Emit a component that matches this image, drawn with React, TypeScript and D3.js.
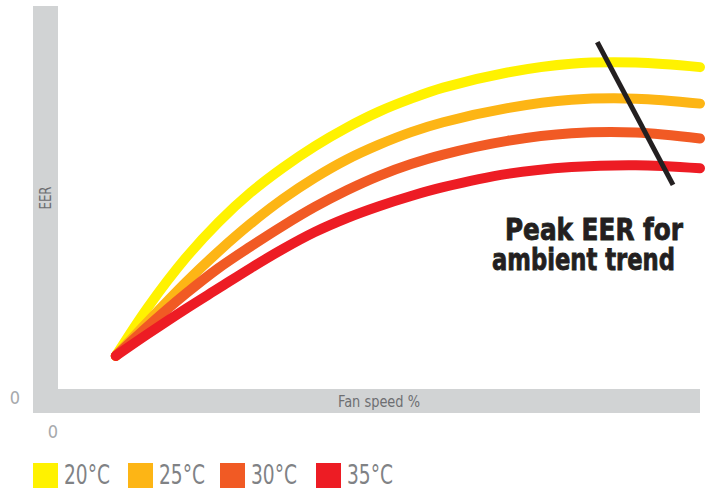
import React from "react";
import * as d3 from "d3";

const fanSpeed = [9, 14, 20, 25, 30, 35, 40, 45, 50, 55, 60, 70, 80, 90, 100];
const eer20 = [0.87, 2.15, 3.47, 4.39, 5.17, 5.82, 6.39, 6.88, 7.3, 7.64, 7.93, 8.33, 8.56, 8.59, 8.47];
const eer25 = [0.87, 1.77, 2.82, 3.62, 4.35, 5.0, 5.56, 6.04, 6.43, 6.76, 7.02, 7.39, 7.61, 7.64, 7.51];
const eer30 = [0.87, 1.65, 2.52, 3.18, 3.75, 4.29, 4.79, 5.23, 5.61, 5.92, 6.17, 6.53, 6.73, 6.75, 6.59];
const eer35 = [0.87, 1.45, 2.12, 2.65, 3.18, 3.68, 4.13, 4.5, 4.81, 5.08, 5.31, 5.66, 5.84, 5.89, 5.81];
const seriesLabels = ["20°C", "25°C", "30°C", "35°C"];
const seriesColors = ["#FFF200", "#FDB515", "#F15A24", "#ED1C24"];
const trendX = [84.0, 95.8];
const trendY = [9.13, 5.37];

const condensed = "'Liberation Sans Narrow', 'DejaVu Sans Condensed', 'Roboto', sans-serif";

export default function App() {
  const width = 715;
  const height = 490;
  const x = d3.scaleLinear().domain([0, 100]).range([58, 700]);
  const y = d3.scaleLinear().domain([0, 10]).range([389, 9]);
  const line = d3
    .line<[number, number]>()
    .x((d) => x(d[0]))
    .y((d) => y(d[1]))
    .curve(d3.curveCatmullRom.alpha(0.5));
  const all = [eer20, eer25, eer30, eer35];
  const legendX = [33, 128, 220, 316];

  return (
    <svg width={width} height={height} style={{ position: "absolute", left: 0, top: 0 }}>
      <rect x={0} y={0} width={width} height={height} fill="#ffffff" />
      <rect x={33} y={6} width={25} height={407} fill="#D1D3D4" />
      <rect x={33} y={389} width={667} height={24} fill="#D1D3D4" />
      <text
        x={379}
        y={407}
        textAnchor="middle"
        fontFamily={condensed}
        fontSize={16}
        fill="#6D6E71"
        textLength={82}
        lengthAdjust="spacingAndGlyphs"
      >
        Fan speed %
      </text>
      <text
        transform={`translate(51,198) rotate(-90)`}
        textAnchor="middle"
        fontFamily={condensed}
        fontSize={15}
        fill="#6D6E71"
        textLength={23}
        lengthAdjust="spacingAndGlyphs"
      >
        EER
      </text>
      <text x={15} y={404} textAnchor="middle" fontFamily={condensed} fontSize={18} fill="#A7A9AC">
        0
      </text>
      <text x={53} y={438} textAnchor="middle" fontFamily={condensed} fontSize={18} fill="#A7A9AC">
        0
      </text>
      {all.map((vals, i) => (
        <path
          key={i}
          d={line(fanSpeed.map((f, j) => [f, vals[j]] as [number, number])) || ""}
          fill="none"
          stroke={seriesColors[i]}
          strokeWidth={10}
          strokeLinecap="round"
          strokeLinejoin="round"
        />
      ))}
      <line
        x1={x(trendX[0])}
        y1={y(trendY[0])}
        x2={x(trendX[1])}
        y2={y(trendY[1])}
        stroke="#231F20"
        strokeWidth={5}
      />
      <text
        x={505}
        y={240}
        fontFamily={condensed}
        fontWeight="bold"
        fontSize={30}
        fill="#231F20"
        stroke="#231F20"
        strokeWidth={0.8}
        textLength={178}
        lengthAdjust="spacingAndGlyphs"
      >
        Peak EER for
      </text>
      <text
        x={492}
        y={270}
        fontFamily={condensed}
        fontWeight="bold"
        fontSize={30}
        fill="#231F20"
        stroke="#231F20"
        strokeWidth={0.8}
        textLength={183}
        lengthAdjust="spacingAndGlyphs"
      >
        ambient trend
      </text>
      {seriesLabels.map((lab, i) => (
        <g key={lab}>
          <rect x={legendX[i]} y={463} width={25} height={25} fill={seriesColors[i]} />
          <text
            x={legendX[i] + 31}
            y={484}
            fontFamily={condensed}
            fontSize={26}
            fill="#808285"
            textLength={46}
            lengthAdjust="spacingAndGlyphs"
          >
            {lab}
          </text>
        </g>
      ))}
    </svg>
  );
}
